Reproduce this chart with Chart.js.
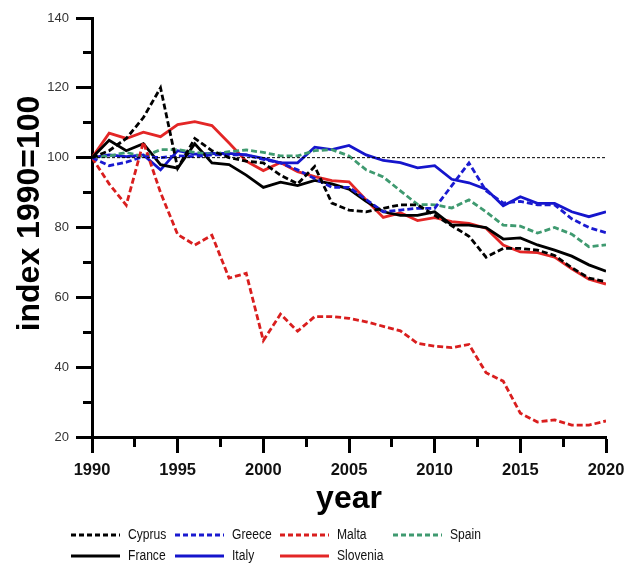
<!DOCTYPE html>
<html><head><meta charset="utf-8">
<script src="https://cdn.jsdelivr.net/npm/chart.js@4.4.1/dist/chart.umd.min.js"></script>
<style>html,body{margin:0;padding:0;background:#fff;}#wrap{width:636px;height:564px;}</style>
</head><body><div id="wrap"><canvas id="c" width="636" height="564"></canvas></div>
<script>
const years = [1990,1991,1992,1993,1994,1995,1996,1997,1998,1999,2000,2001,2002,2003,2004,2005,2006,2007,2008,2009,2010,2011,2012,2013,2014,2015,2016,2017,2018,2019,2020];
const cyprus   = [100,102,105.5,111.5,120,97,105.5,102,100,99,98.5,95,92.5,97.5,87,85,84.5,85.5,86.5,86.5,83.5,80.5,77.5,71.5,74,74,73.5,72,68.5,65.5,64.5];
const greece   = [100,97.7,98.7,100.3,100,100.5,100.3,100.8,100.8,100.8,99.5,98.5,96.5,94,91.5,91.5,88,84.5,85,85.5,85.5,92,98.5,90.5,87,87.5,86.5,86.5,82.5,80,78.5];
const malta    = [100,92.5,86.4,104.5,90,78,75,77.8,65.5,66.9,47.6,55.2,50.3,54.5,54.5,54,53,51.7,50.4,46.8,46,45.6,46.5,38.4,36,26.8,24.3,24.9,23.4,23.4,24.6];
const spain    = [100,100.5,101.5,100.3,102.3,102.3,101.5,101,101.7,102.2,101.5,100.5,100.5,102,102.3,100.5,96.5,94.5,90.5,86.6,86.5,85.6,87.9,84.5,80.7,80.4,78.4,80,78.1,74.5,75];
const france   = [100,105,102,104,98,97,104,98.5,98,95,91.5,93,92,93.5,92.5,91,87.5,84.5,83.5,83.5,84.5,80.7,80.7,80,76.7,77,75,73.5,71.8,69.3,67.5];
const italy    = [100,100.8,100.3,100.8,96.5,102,101,101.2,101.2,100.8,99.8,98.5,98.5,103,102.3,103.5,100.8,99.2,98.6,97.1,97.7,93.8,92.8,91,86.2,88.8,86.9,86.9,84.5,83.1,84.5];
const slovenia = [100,107,105.5,107.3,106,109.5,110.3,109.2,104.2,99,96.3,98.6,96,94.6,93.4,93.1,87.9,82.9,84.2,82,82.8,81.7,81.2,79.8,75,73,72.8,71.5,68.2,65.2,63.8];
const refYears = [1990, 2020];
const refValues = [100, 100];
const xTickLabels = [1990,1995,2000,2005,2010,2015,2020];
const yTickLabels = [20,40,60,80,100,120,140];
const yTitle = 'index 1990=100';
const xTitle = 'year';

const pts = arr => arr.map((v,i) => ({x: years[i], y: v}));
const series = [
  {label:'Cyprus',   data:cyprus,   color:'#000000', dash:[6,3]},
  {label:'Greece',   data:greece,   color:'#1a1ad0', dash:[6,3]},
  {label:'Malta',    data:malta,    color:'#d91e1e', dash:[6,3]},
  {label:'Spain',    data:spain,    color:'#3f9a70', dash:[6,3]},
  {label:'France',   data:france,   color:'#000000', dash:[]},
  {label:'Italy',    data:italy,    color:'#1515cc', dash:[]},
  {label:'Slovenia', data:slovenia, color:'#e32626', dash:[]}
];
const datasets = series.map(s => ({
  label: s.label, data: pts(s.data), borderColor: s.color, backgroundColor: s.color,
  borderDash: s.dash, borderWidth: 2.8, pointRadius: 0, tension: 0, fill: false
}));
datasets.unshift({
  label: 'ref', data: refYears.map((x,i)=>({x, y: refValues[i]})), borderColor:'#000',
  borderWidth: 1, borderDash:[3,2], pointRadius:0, fill:false
});

const extras = {
  id: 'extras',
  afterDraw(chart) {
    const ctx = chart.ctx;
    ctx.save();
    // y-axis title
    const ys = chart.scales.y;
    ctx.translate(30, (ys.top + ys.bottom) / 2 - 14);
    ctx.rotate(-Math.PI / 2);
    ctx.fillStyle = '#000';
    ctx.font = 'bold 32px "Liberation Sans", Arial, sans-serif';
    ctx.textAlign = 'center'; ctx.textBaseline = 'middle';
    ctx.fillText(yTitle, 0, 0);
    ctx.restore();
    // legend in a grid
    const colX = [71, 175, 280, 393];
    const rowY = [535, 556];
    series.forEach((s, i) => {
      const row = i < 4 ? 0 : 1, col = i < 4 ? i : i - 4;
      const x = colX[col], y = rowY[row];
      ctx.save();
      ctx.beginPath();
      ctx.strokeStyle = s.color; ctx.lineWidth = 2.8; ctx.setLineDash(s.dash.length ? [5,3] : []);
      ctx.moveTo(x, y); ctx.lineTo(x + 49, y); ctx.stroke();
      ctx.setLineDash([]);
      ctx.translate(x + 57, y);
      ctx.scale(0.78, 1);
      ctx.fillStyle = '#111';
      ctx.font = '15.5px "Liberation Sans", Arial, sans-serif';
      ctx.textBaseline = 'middle'; ctx.textAlign = 'left';
      ctx.fillText(s.label, 0, 0);
      ctx.restore();
    });
  }
};

new Chart(document.getElementById('c'), {
  type: 'line',
  data: { datasets },
  plugins: [extras],
  options: {
    responsive: false, animation: false, devicePixelRatio: 1,
    layout: { padding: { left: 0, right: 30, top: 18, bottom: 0 } },
    plugins: { legend: { display: false }, tooltip: { enabled: false } },
    scales: {
      x: {
        type: 'linear', min: 1990, max: 2020,
        ticks: {
          stepSize: 2.5, autoSkip: false, maxRotation: 0, padding: 8,
          color: '#111', font: { family: '"Liberation Sans", Arial, sans-serif', size: 16.5, weight: 'bold' },
          callback: v => xTickLabels.includes(v) ? String(v) : ''
        },
        grid: {
          drawOnChartArea: false, drawTicks: true, tickLength: 16, tickWidth: 3, tickColor: '#000',
          tickBorderDash: c => (c.tick && xTickLabels.includes(c.tick.value)) ? [] : [8, 40]
        },
        border: { display: true, width: 3, color: '#000' },
        title: { display: true, text: xTitle, color: '#000',
          font: { family: '"Liberation Sans", Arial, sans-serif', size: 32, weight: 'bold' },
          padding: { top: 0, bottom: 46 } },
        afterFit: s => { s.height = 127; s.paddingLeft = 0; s.paddingRight = 0; }
      },
      y: {
        type: 'linear', min: 20, max: 140,
        ticks: {
          stepSize: 10, autoSkip: false, padding: 7, color: '#333',
          font: { family: '"Liberation Sans", Arial, sans-serif', size: 13 },
          callback: v => yTickLabels.includes(v) ? String(v) : ''
        },
        grid: {
          drawOnChartArea: false, drawTicks: true, tickLength: 16, tickWidth: 3, tickColor: '#000',
          tickBorderDash: c => (c.tick && yTickLabels.includes(c.tick.value)) ? [] : [0, 7, 9, 40]
        },
        border: { display: true, width: 3, color: '#000' },
        title: { display: false },
        afterFit: s => { s.width = 92; s.paddingTop = 0; s.paddingBottom = 0; }
      }
    }
  }
});
</script></body></html>
